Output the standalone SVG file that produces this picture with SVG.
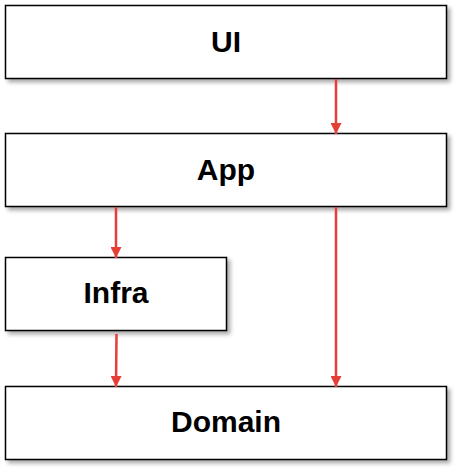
<svg xmlns="http://www.w3.org/2000/svg" width="459" height="472" viewBox="0 0 459 472">
<defs>
<filter id="sh" x="-10%" y="-20%" width="130%" height="150%">
<feDropShadow dx="3" dy="3" stdDeviation="2" flood-color="#000" flood-opacity="0.35"/>
</filter>
<marker id="ah" viewBox="0 0 10 10" refX="10" refY="5" markerWidth="11" markerHeight="11" markerUnits="userSpaceOnUse" orient="auto">
<path d="M0,0 L10,5 L0,10 Z" fill="#e53e37"/>
</marker>
<style>
.box{fill:#fff;stroke:#000;stroke-width:1.5;filter:url(#sh)}
.lbl{font-family:"Liberation Sans",Arial,sans-serif;font-weight:bold;font-size:30px;fill:#000;text-anchor:middle}
.c{stroke:#e53e37;stroke-width:2.5;fill:none;marker-end:url(#ah)}
</style>
</defs>
<rect width="459" height="472" fill="#fff"/>
<g id="ui"><rect class="box" x="5.5" y="5.5" width="441" height="73"/><text class="lbl" x="226" y="52">UI</text></g>
<g id="app"><rect class="box" x="5.5" y="133.5" width="441" height="73"/><text class="lbl" x="226" y="180">App</text></g>
<g id="infra"><rect class="box" x="5.5" y="257.5" width="221" height="73"/><text class="lbl" x="116" y="303">Infra</text></g>
<g id="domain"><rect class="box" x="5.5" y="386.5" width="441" height="73"/><text class="lbl" x="226" y="432">Domain</text></g>
<g id="connectors">
<line class="c" x1="336" y1="79" x2="336" y2="134"/>
<line class="c" x1="116" y1="207" x2="116" y2="258"/>
<line class="c" x1="116.5" y1="334" x2="116" y2="387"/>
<line class="c" x1="336" y1="207" x2="336" y2="387"/>
</g>
</svg>
